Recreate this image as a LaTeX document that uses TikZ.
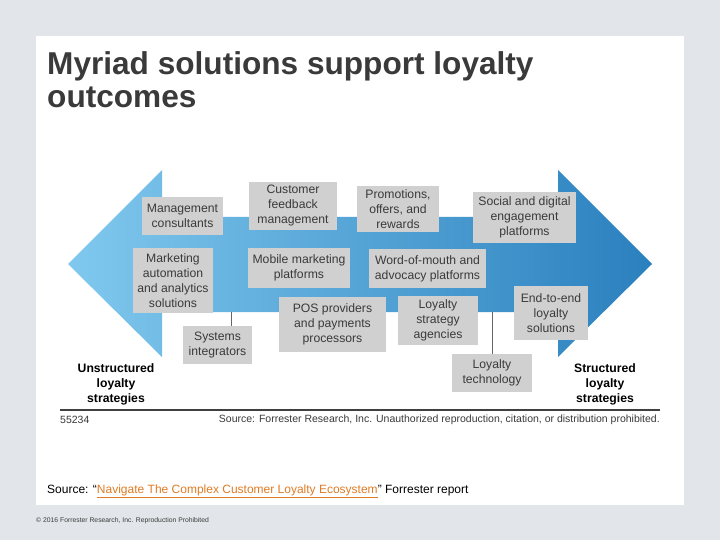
\documentclass[tikz,border=0pt]{standalone}
\usepackage{fontspec}
\setmainfont{Liberation Sans}
\usetikzlibrary{positioning}

\definecolor{pagegrey}{HTML}{E2E6EA}
\definecolor{boxgrey}{HTML}{D0D0D0}
\definecolor{textgrey}{HTML}{3A3A3A}
\definecolor{arrowlight}{HTML}{80C8EE}
\definecolor{arrowdark}{HTML}{2A80BE}
\definecolor{linkorange}{HTML}{E07B24}

\begin{document}
\begin{tikzpicture}[
    x=1pt, y=-1pt,
    box/.style={rectangle, draw=none, fill=boxgrey, inner sep=0pt,
        text centered, align=center, text=textgrey,
        font=\fontsize{12.2}{15}\selectfont},
    ends/.style={rectangle, draw=none, fill=none, align=center, text=black,
        font=\fontsize{12.2}{15}\selectfont\bfseries},
    link/.style={draw=black!60, line width=1pt}
]
% page and panel
\useasboundingbox[fill=pagegrey] (0,0) rectangle (720,540);
\fill[white] (36,36) rectangle (684,505);

% title
\node (Title) [anchor=north west, align=left, text=textgrey, inner sep=0pt,
    font=\fontsize{31.6}{33}\selectfont\bfseries] at (47,51) {Myriad solutions support loyalty\\outcomes};

% the double arrow
\shade[left color=arrowlight, right color=arrowdark]
    (68,264) -- (162,170) -- (162,217) -- (558,217) -- (558,170) -- (652,264)
    -- (558,357) -- (558,312) -- (162,312) -- (162,357) -- cycle;

% solutions
\node (Sol01) [box, minimum width=81, minimum height=38] at (182.5,216) {Management\\consultants};
\node (Sol02) [box, minimum width=88, minimum height=48] at (293,206) {Customer\\feedback\\management};
\node (Sol03) [box, minimum width=82, minimum height=46] at (398,209) {Promotions,\\offers, and\\rewards};
\node (Sol04) [box, minimum width=103, minimum height=51] at (524.5,217.5) {Social and digital\\engagement\\platforms};
\node (Sol05) [box, minimum width=80, minimum height=65] at (173,280.5) {Marketing\\automation\\and analytics\\solutions};
\node (Sol06) [box, minimum width=102, minimum height=40] at (299,268) {Mobile marketing\\platforms};
\node (Sol07) [box, minimum width=117, minimum height=39] at (427.5,268.5) {Word-of-mouth and\\advocacy platforms};
\node (Sol08) [box, minimum width=107, minimum height=55] at (332.5,324.5) {POS providers\\and payments\\processors};
\node (Sol09) [box, minimum width=80, minimum height=49] at (438,320.5) {Loyalty\\strategy\\agencies};
\node (Sol10) [box, minimum width=74, minimum height=54] at (551,313) {End-to-end\\loyalty\\solutions};
\node (Sol11) [box, minimum width=69, minimum height=38] at (217.5,345) {Systems\\integrators};
\node (Sol12) [box, minimum width=80, minimum height=38] at (492,373) {Loyalty\\technology};

% connectors up to the shaft
\coordinate (Join11) at (231,312);
\coordinate (Join12) at (492,312);
\draw[link] (Join11) -- (Join11 |- Sol11.north);
\draw[link] (Join12) -- (Join12 |- Sol12.north);

% the two ends
\node (End01) [ends] at (116,384) {Unstructured\\loyalty\\strategies};
\node (End02) [ends] at (605,384) {Structured\\loyalty\\strategies};

% rule and credits
\coordinate (RuleL) at (60,410);
\coordinate (RuleR) at (660,410);
\draw[black!75, line width=1.2pt] (RuleL) -- (RuleR);
\node (FigNo) [anchor=west, inner sep=0pt, text=textgrey,
    font=\fontsize{10.5}{12}\selectfont] at (60,420) {55234};
\node (Credit) [anchor=east, inner sep=0pt, text=textgrey,
    font=\fontsize{10.5}{12}\selectfont] at (660,420)
    {Source: Forrester Research, Inc. Unauthorized reproduction, citation, or distribution prohibited.};

% source line
\node (Source) [anchor=west, inner sep=0pt, text=black,
    font=\fontsize{12}{14}\selectfont] at (47,491)
    {Source: ``{\color{linkorange}\underline{Navigate The Complex Customer Loyalty Ecosystem}}'' Forrester report};

% footer
\node (Footer) [anchor=west, inner sep=0pt, text=textgrey,
    font=\fontsize{6.8}{8}\selectfont] at (36,521)
    {\textcopyright{} 2016 Forrester Research, Inc. Reproduction Prohibited};
\end{tikzpicture}
\end{document}
